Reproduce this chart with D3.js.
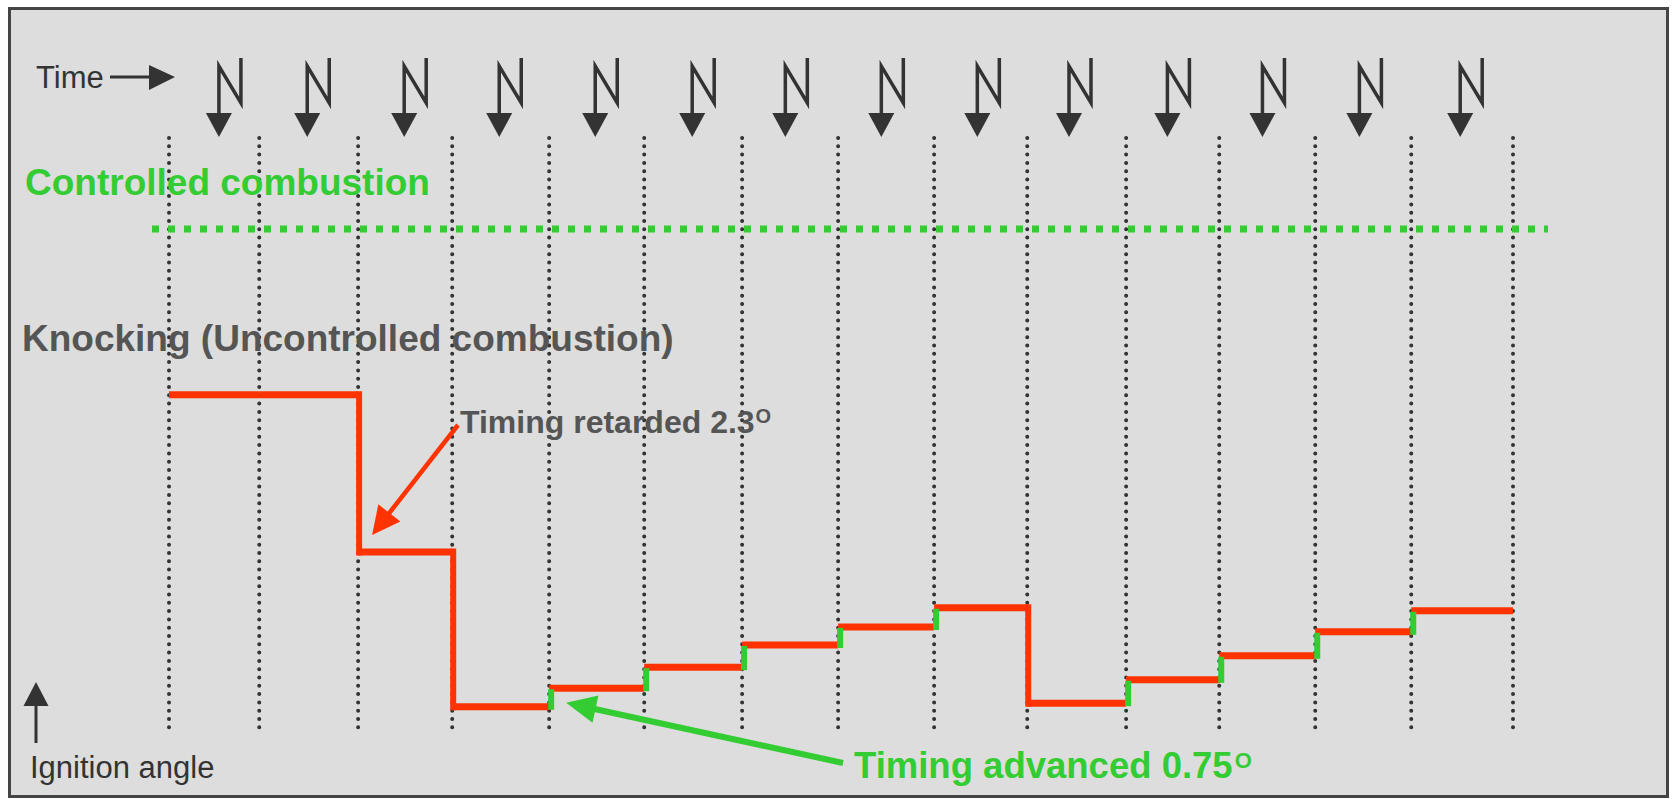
<!DOCTYPE html>
<html><head><meta charset="utf-8">
<script src="https://cdn.jsdelivr.net/npm/d3@7"></script>
<style>
html,body{margin:0;padding:0;background:#fff;}
svg{display:block;font-family:"Liberation Sans",Arial,sans-serif;}
</style></head>
<body>
<svg id="chart" width="1674" height="799"></svg>
<script>
// ---- data ----
// combustion cycle boundaries (time units)
const cycleTimes = [0, 0.94, 1.97, 2.95, 3.96, 4.95, 5.97, 6.97, 7.97, 8.94, 9.97, 10.94, 11.94, 12.94, 14];
// spark events (time units)
const sparkTimes = [0.52, 1.44, 2.45, 3.44, 4.44, 5.45, 6.42, 7.42, 8.42, 9.375, 10.4, 11.39, 12.4, 13.45];
// ignition angle per cycle (schematic units)
const ignitionAngle = [56.7, 56.7, 30.5, 4.7, 7.8, 11.3, 15.0, 18.0, 21.2, 5.3, 9.2, 13.2, 17.2, 20.7];
const labels = {
  time: "Time",
  controlled: "Controlled combustion",
  knocking: "Knocking (Uncontrolled combustion)",
  retarded: "Timing retarded 2.3",
  advanced: "Timing advanced 0.75",
  degree: "O",
  yAxis: "Ignition angle"
};

const RED = "#ff3300", GREEN = "#33cc33", DARK = "#333333", GREY = "#555555";
const svg = d3.select("#chart");

const x = d3.scaleLinear().domain([0, 14]).range([169, 1513]);
const y = d3.scaleLinear().domain([0, 100]).range([735, 135]);

// frame
svg.append("rect").attr("x", 9.5).attr("y", 8.5).attr("width", 1658).attr("height", 788)
  .attr("fill", "#dddddd").attr("stroke", "#444").attr("stroke-width", 3);

// dotted cycle lines
svg.append("g").selectAll("line").data(cycleTimes).join("line")
  .attr("x1", d => x(d)).attr("x2", d => x(d))
  .attr("y1", 138).attr("y2", 734)
  .attr("stroke", DARK).attr("stroke-width", 4)
  .attr("stroke-linecap", "round").attr("stroke-dasharray", "0 8.3");

// controlled combustion line
svg.append("line").attr("x1", 152).attr("x2", 1548).attr("y1", 229).attr("y2", 229)
  .attr("stroke", GREEN).attr("stroke-width", 7).attr("stroke-dasharray", "7 9");

// Time label + arrow
svg.append("text").attr("x", 36).attr("y", 88).attr("font-size", 31).attr("fill", DARK).text(labels.time);
svg.append("line").attr("x1", 110).attr("x2", 152).attr("y1", 77).attr("y2", 77)
  .attr("stroke", DARK).attr("stroke-width", 3);
svg.append("path").attr("d", "M149,65 L175,77 L149,90 Z").attr("fill", DARK);

// sparks
const sp = svg.append("g").selectAll("g").data(sparkTimes).join("g")
  .attr("transform", d => `translate(${x(d)},0)`);
sp.append("path").attr("d", "M0,115 L0,66 L22,103 L22,58")
  .attr("fill", "none").attr("stroke", DARK).attr("stroke-width", 3.5).attr("stroke-linejoin", "miter");
sp.append("path").attr("d", "M-13,113 L13,113 L0,137 Z").attr("fill", DARK);

// labels
svg.append("text").attr("x", 25).attr("y", 195).attr("font-size", 37).attr("font-weight", "bold")
  .attr("fill", GREEN).text(labels.controlled);
svg.append("text").attr("x", 22).attr("y", 351).attr("font-size", 37).attr("font-weight", "bold")
  .attr("fill", GREY).text(labels.knocking);

// ignition angle steps
const steps = ignitionAngle.map((a, i) => ({a, i, t0: cycleTimes[i], t1: cycleTimes[i + 1], prev: i > 0 ? ignitionAngle[i - 1] : a}));
const g = svg.append("g");
// red horizontal segments
g.selectAll("line.h").data(steps).join("line").attr("class", "h")
  .attr("x1", d => x(d.t0)).attr("x2", d => x(d.t1))
  .attr("y1", d => y(d.a)).attr("y2", d => y(d.a))
  .attr("stroke", RED).attr("stroke-width", 7);
// retard drops (red)
g.selectAll("line.r").data(steps.filter(d => d.a < d.prev)).join("line").attr("class", "r")
  .attr("x1", d => x(d.t0) + 1).attr("x2", d => x(d.t0) + 1)
  .attr("y1", d => y(d.prev) - 3.5).attr("y2", d => y(d.a) + 3.5)
  .attr("stroke", RED).attr("stroke-width", 6);
// advance risers (green)
g.selectAll("line.a").data(steps.filter(d => d.a > d.prev)).join("line").attr("class", "a")
  .attr("x1", d => x(d.t0) + 2).attr("x2", d => x(d.t0) + 2)
  .attr("y1", d => y(d.a) + 1).attr("y2", d => y(d.prev) + 3)
  .attr("stroke", GREEN).attr("stroke-width", 6);

// annotation arrows
function arrow(start, tip, len, half, color, w) {
  const dx = tip[0] - start[0], dy = tip[1] - start[1];
  const L = Math.hypot(dx, dy), ux = dx / L, uy = dy / L;
  const bx = tip[0] - ux * len, by = tip[1] - uy * len;
  svg.append("line").attr("x1", start[0]).attr("y1", start[1]).attr("x2", bx + ux * 2).attr("y2", by + uy * 2)
    .attr("stroke", color).attr("stroke-width", w);
  svg.append("path").attr("d", `M${tip[0]},${tip[1]} L${bx - uy * half},${by + ux * half} L${bx + uy * half},${by - ux * half} Z`)
    .attr("fill", color);
}
// retard annotation
const rTip = [x(cycleTimes[2]) + 14, y(ignitionAngle[2]) - 17];
arrow([458, 425], rTip, 28, 14, RED, 4.5);
const rt = svg.append("text").attr("x", 460).attr("y", 433).attr("font-size", 32).attr("font-weight", "bold").attr("fill", GREY);
rt.append("tspan").text(labels.retarded);
rt.append("tspan").attr("font-size", 20).attr("dx", 1).attr("dy", -10).text(labels.degree);

// advance annotation
const aTip = [x(cycleTimes[4]) + 17, y(ignitionAngle[3]) - 4];
arrow([843, 763], aTip, 30, 14, GREEN, 6);
const at = svg.append("text").attr("x", 854).attr("y", 778).attr("font-size", 36.5).attr("font-weight", "bold").attr("fill", GREEN);
at.append("tspan").text(labels.advanced);
at.append("tspan").attr("font-size", 22).attr("dx", 2).attr("dy", -10).text(labels.degree);

// y axis label + arrow
svg.append("line").attr("x1", 36).attr("x2", 36).attr("y1", 743).attr("y2", 700)
  .attr("stroke", DARK).attr("stroke-width", 3);
svg.append("path").attr("d", "M23.5,706 L36,682 L48.5,706 Z").attr("fill", DARK);
svg.append("text").attr("x", 30).attr("y", 778).attr("font-size", 31).attr("fill", DARK).text(labels.yAxis);
</script>
</body></html>
